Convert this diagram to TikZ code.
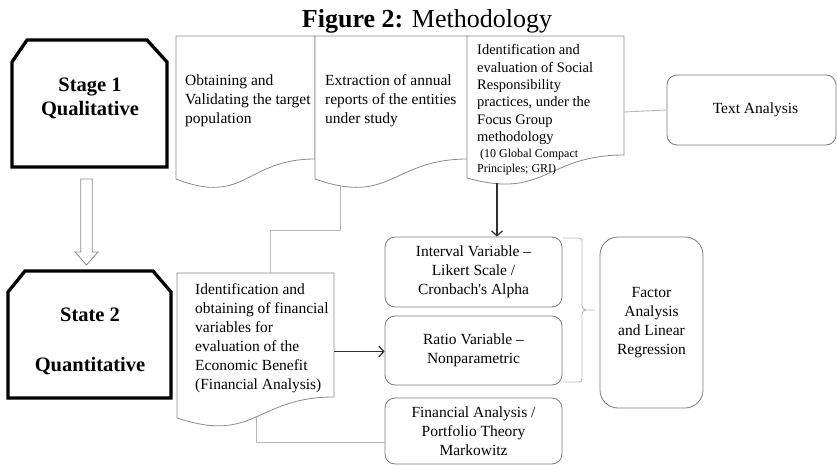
\documentclass[tikz,border=0pt]{standalone}
\usepackage{fontspec}
\setmainfont{Liberation Serif}
\usetikzlibrary{arrows.meta}
\definecolor{boxgray}{HTML}{7A7A7A}
\definecolor{docgray}{HTML}{8A8A8A}
\definecolor{linegray}{HTML}{B8B8B8}
\definecolor{arrowdark}{HTML}{303030}
\begin{document}
\begin{tikzpicture}[x=1pt,y=-1pt,
  stageshape/.style={draw=black,line width=3.3pt,fill=white,line join=miter},
  stagetext/.style={font=\fontsize{20.5}{24}\selectfont\bfseries,align=center,inner sep=0pt},
  docshape/.style={draw=docgray,line width=0.8pt,fill=white},
  doctext/.style={font=\fontsize{15.5}{19}\selectfont,align=left,anchor=base west,inner sep=0pt},
  rbox/.style={draw=boxgray,line width=0.8pt,rounded corners=10pt,align=center,inner sep=0pt,
    font=\fontsize{15.5}{19.2}\selectfont},
  conn/.style={draw=linegray,line width=0.9pt},
  arr/.style={draw=arrowdark,line width=1.2pt,-{Straight Barb[length=5pt,width=11pt]}},
  hollowarrow/.style={draw=docgray,line width=0.8pt,fill=white}
]
\useasboundingbox (0,0) rectangle (837,465);

% title
\node[anchor=base,inner sep=0pt] (title) at (427,28)
  {\fontsize{26}{30}\selectfont\textbf{Figure 2:} Methodology};

% named connection points
\coordinate (d2b) at (340,180);
\coordinate (j1) at (340,230);
\coordinate (j2) at (270,230);
\coordinate (d4t) at (270,274);
\coordinate (d4b) at (256,415);
\coordinate (fin) at (385,442);
\coordinate (d3r) at (624,112);
\coordinate (d3b) at (497,183);
\coordinate (d4r) at (334,351.5);

% rounded boxes
\node[rbox,minimum width=177pt,minimum height=70pt] (iv) at (473.5,272)
  {Interval Variable --\\Likert Scale /\\Cronbach\textquotesingle s Alpha};
\node[rbox,minimum width=177pt,minimum height=69pt] (rv) at (473.5,350.5)
  {Ratio Variable --\\Nonparametric};
\node[rbox,minimum width=177pt,minimum height=66pt] (fa) at (473.5,431)
  {Financial Analysis /\\Portfolio Theory\\Markowitz};
\node[rbox,rounded corners=18pt,minimum width=103pt,minimum height=171pt] (fl) at (651.5,322.5)
  {Factor\\Analysis\\and Linear\\Regression};
\node[rbox,minimum width=169pt,minimum height=70pt] (ta) at (751.5,110)
  {\hspace*{8pt}Text Analysis};

% connectors (drawn below the document shapes)
\draw[conn] (d2b) -- (j1) -- (j2) -- (d4t);
\draw[conn] (d4b) |- (fin);
\draw[conn] (d3r) -- (ta.west);

% brace
\draw[conn] (563,238) -- (579,238) to[out=0,in=90] (582,241) -- (582,306)
  to[out=-90,in=180] (586,310) -- (595,310);
\draw[conn] (586,310) to[out=180,in=90] (582,314) -- (582,379)
  to[out=-90,in=0] (579,382) -- (563,382);

% stage shapes
\draw[stageshape] (12,167) -- (12,62) -- (27,40) -- (147,40) -- (167,62) -- (167,167) -- cycle;
\node[stagetext] (s1) at (90,98) {Stage 1\\Qualitative};
\draw[stageshape] (8,398) -- (8,292) -- (25,271) -- (153,271) -- (171,292) -- (171,398) -- cycle;
\node[stagetext] (s2) at (90,341) {State 2\\[26pt]Quantitative};

% hollow arrow between stages
\draw[hollowarrow] (80.7,179) -- (92.3,179) -- (92.3,252) -- (98,252) -- (86.5,265)
  -- (75,252) -- (80.7,252) -- cycle;

% document shapes
\draw[docshape] (176,179) -- (176,36) -- (315,36) -- (315,159)
  .. controls (245.5,159) and (245.5,206) .. (176,179);
\draw[docshape] (315,179) -- (315,36) -- (468,36) -- (468,159)
  .. controls (391.5,159) and (391.5,206) .. (315,179);
\draw[docshape] (467,178) -- (467,36) -- (624,36) -- (624,155)
  .. controls (545.5,155) and (545.5,200) .. (467,178);
\draw[docshape] (177,418) -- (177,273) -- (334,273) -- (334,397)
  .. controls (255.5,397) and (255.5,444) .. (177,418);

% document texts (anchor = baseline of the last line)
\node[doctext] (t1) at (185,124) {Obtaining and\\Validating the target\\population};
\node[doctext] (t2) at (325,124) {Extraction of annual\\reports of the entities\\under study};
\node[doctext,font=\fontsize{14.5}{17.3}\selectfont] (t3) at (477,141.5)
  {Identification and\\evaluation of Social\\Responsibility\\practices, under the\\Focus Group\\methodology};
\node[doctext,font=\fontsize{12}{14.5}\selectfont] (t3b) at (477,172.5)
  {\hspace*{3pt}(10 Global Compact\\Principles; GRI)};
\node[doctext] (t4) at (195,389)
  {Identification and\\obtaining of financial\\variables for\\evaluation of the\\Economic Benefit\\(Financial Analysis)};

% arrows
\draw[arr] (d3b) -- (iv.north -| d3b);
\draw[arr] (d4r) -- (rv.west |- d4r);
\end{tikzpicture}
\end{document}
